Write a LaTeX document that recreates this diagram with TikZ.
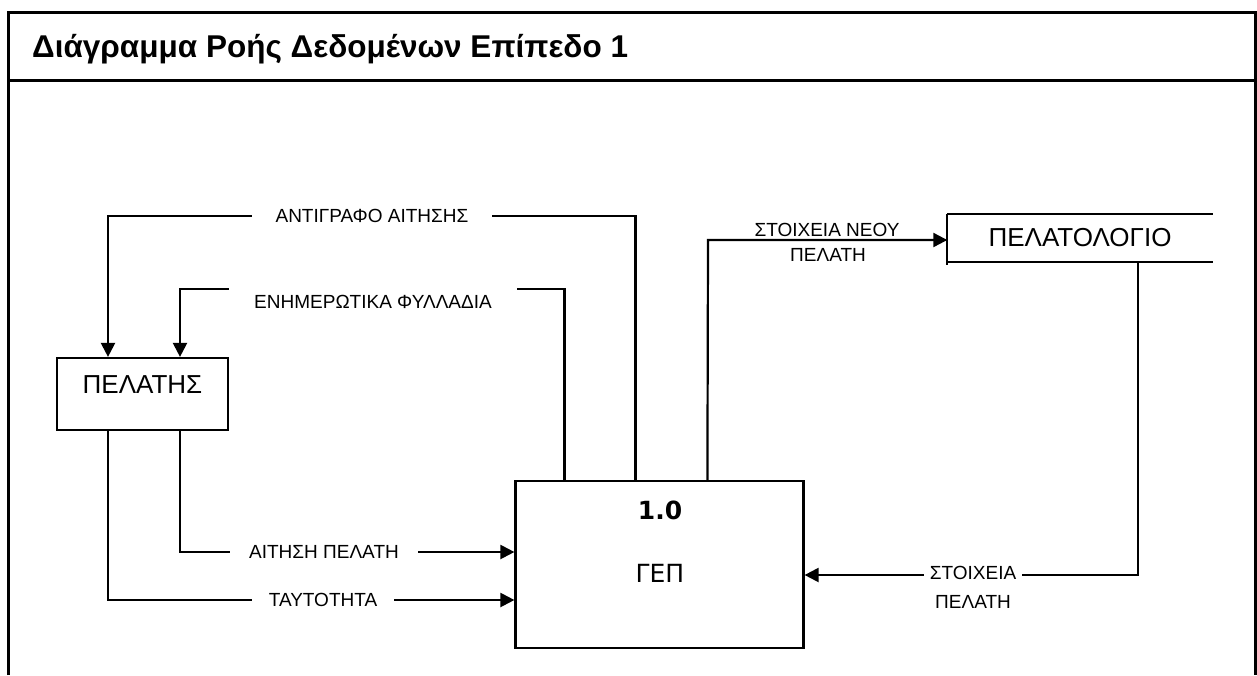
\documentclass[tikz,border=0pt]{standalone}
\usepackage{fontspec}
\setmainfont{Liberation Sans}
\newfontfamily\dvsans{DejaVu Sans}
\usetikzlibrary{arrows.meta}
\begin{document}
\begin{tikzpicture}[x=1pt,y=-1pt,
  flow/.style={line width=2.2pt},
  arr/.style={flow,-{Triangle[length=14pt,width=14pt]}},
  lbl/.style={font=\fontsize{19}{24}\selectfont, inner sep=0pt, align=center},
  gap/.style={lbl, fill=white, inner xsep=20pt, inner ysep=4pt},
  entity/.style={draw, line width=2.2pt, minimum width=171pt, minimum height=72pt,
    inner sep=0pt, text depth=18pt, font=\fontsize{26}{28}\selectfont},
  process/.style={draw, line width=2.2pt, minimum width=288pt, minimum height=167pt, inner sep=0pt}]
\useasboundingbox (0,0) rectangle (1257,675);

% outer frame with title strip
\draw[line width=3pt] (8,675) -- (8,12) -- (1255,12) -- (1255,675);
\draw[line width=3pt] (8,80) -- (1255,80);
\node[anchor=base west, font=\bfseries\fontsize{31.5}{34}\selectfont, inner sep=0pt]
  (title) at (32,57) {Διάγραμμα Ροής Δεδομένων Επίπεδο 1};

% external entity, process and data store
\node[entity] (client) at (142.5,394) {ΠΕΛΑΤΗΣ};
\node[process] (gep) at (659.5,564.5) {};
\node[font=\dvsans\bfseries\fontsize{25}{28}\selectfont, inner sep=0pt] (gepnum) at (660,510) {1.0};
\node[font=\dvsans\fontsize{25}{28}\selectfont, inner sep=0pt] (gepname) at (660,573) {ΓΕΠ};
\node[minimum width=265pt, minimum height=48pt, inner sep=0pt,
  font=\fontsize{26}{28}\selectfont] (store) at (1080,238) {ΠΕΛΑΤΟΛΟΓΙΟ};
\draw[line width=2.2pt] (store.north west) -- (store.north east);
\draw[line width=2.2pt] (store.south west) -- (store.south east);
\draw[line width=2.2pt] (store.north west) -- ([yshift=-3pt]store.south west);

% flows from the process back to the customer
\coordinate (ca) at (108,216);
\draw[arr] ([xshift=121pt]gep.north west) |- (ca) -- (ca |- client.north);
\node[gap, inner xsep=24pt] (lcopy) at (372,216) {ΑΝΤΙΓΡΑΦΟ ΑΙΤΗΣΗΣ};

\coordinate (cb) at (180,289);
\draw[arr] ([xshift=50pt]gep.north west) |- (cb) -- (cb |- client.north);
\node[gap, inner xsep=25pt, inner ysep=8pt] (lleaf) at (373,302) {ΕΝΗΜΕΡΩΤΙΚΑ ΦΥΛΛΑΔΙΑ};

% flows from the customer into the process
\coordinate (cc) at (180,552);
\draw[arr] (cc |- client.south) -- (cc) -- (cc -| gep.west);
\node[gap, inner xsep=19.5pt] (lreq) at (324,552) {ΑΙΤΗΣΗ ΠΕΛΑΤΗ};

\coordinate (cd) at (108,600);
\draw[arr] (cd |- client.south) -- (cd) -- (cd -| gep.west);
\node[gap, inner xsep=16.5pt] (lid) at (323,600) {ΤΑΥΤΟΤΗΤΑ};

% process to data store
\coordinate (ce) at (708,240);
\draw[arr] ([xshift=193pt]gep.north west) -- (ce) -- (ce -| store.west);
\node[lbl, fill=white, inner xsep=9pt, inner ysep=3pt] (lnew2) at (828,255) {ΠΕΛΑΤΗ};
\node[lbl, anchor=base] (lnew1) at (827,236) {ΣΤΟΙΧΕΙΑ ΝΕΟΥ};

% data store to process
\coordinate (cf) at (1138,575);
\draw[arr] (cf |- store.south) -- (cf) -- (cf -| gep.east);
\node[lbl, fill=white, inner xsep=6pt, inner ysep=2pt] (lcust1) at (973,573) {ΣΤΟΙΧΕΙΑ};
\node[lbl] (lcust2) at (973,602) {ΠΕΛΑΤΗ};
\end{tikzpicture}
\end{document}
